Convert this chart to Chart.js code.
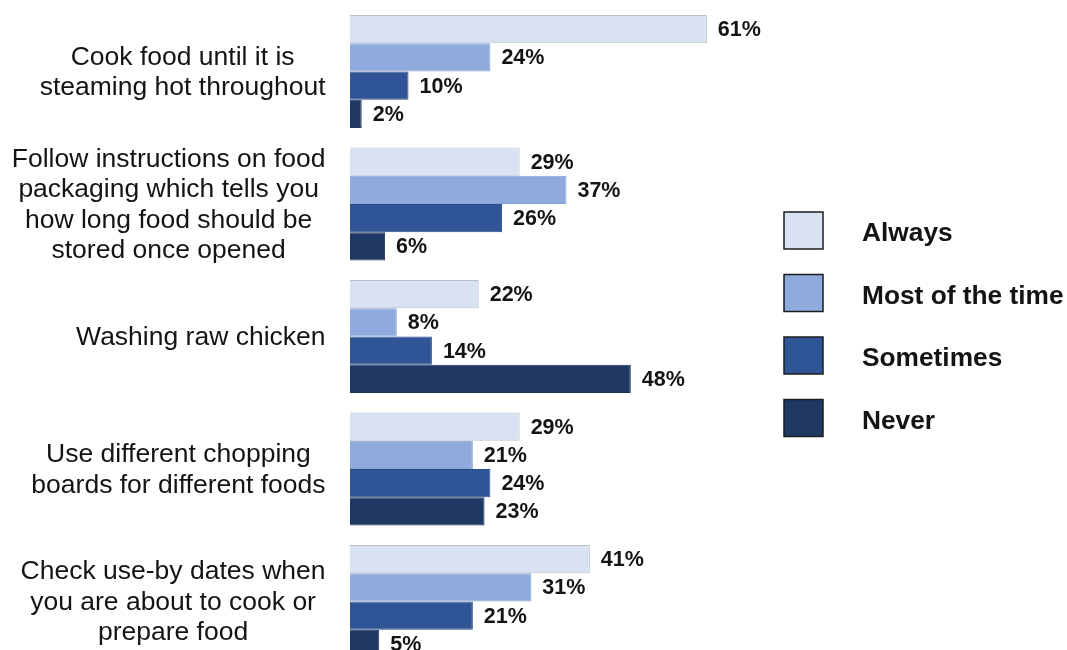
<!DOCTYPE html>
<html>
<head>
<meta charset="utf-8">
<title>Food hygiene practices</title>
<script src="https://cdn.jsdelivr.net/npm/chart.js@4/dist/chart.umd.min.js"></script>
<style>
  html, body { margin: 0; padding: 0; background: #ffffff; overflow: hidden; }
  #wrap { width: 1067px; height: 672px; }
</style>
</head>
<body>
<div id="wrap"><canvas id="chart" width="1067" height="672"></canvas></div>
<script>
// Survey categories (multi-line labels)
const categories = [
  ['Cook food until it is', 'steaming hot throughout'],
  ['Follow instructions on food', 'packaging which tells you', 'how long food should be', 'stored once opened'],
  ['Washing raw chicken'],
  ['Use different chopping', 'boards for different foods'],
  ['Check use-by dates when', 'you are about to cook or', 'prepare food']
];

const seriesNames = ['Always', 'Most of the time', 'Sometimes', 'Never'];

// Percentages per category
const always        = [61, 29, 22, 29, 41];
const mostOfTheTime = [24, 37,  8, 21, 31];
const sometimes     = [10, 26, 14, 24, 21];
const never         = [ 2,  6, 48, 23,  5];

const fillColors   = ['#D9E2F3', '#8FAADC', '#2F5597', '#203864'];
const borderColors = ['#B9C0CC', '#8AA3D2', '#2A4E8C', '#1E335A'];

const FONT = '"Liberation Sans", Arial, Arimo, Helvetica, sans-serif';
const TEXT = '#141414';

// Value labels placed just past the end of each bar
const valueLabels = {
  id: 'valueLabels',
  afterDatasetsDraw(chart) {
    const ctx = chart.ctx;
    ctx.save();
    ctx.font = 'bold 21.5px ' + FONT;
    ctx.fillStyle = TEXT;
    ctx.textAlign = 'left';
    ctx.textBaseline = 'middle';
    chart.data.datasets.forEach((ds, di) => {
      const meta = chart.getDatasetMeta(di);
      meta.data.forEach((bar, i) => {
        ctx.fillText(ds.data[i] + '%', bar.x + 11, bar.y + 1);
      });
    });
    ctx.restore();
  }
};

// Category labels: block right-aligned to the axis, lines centred within the block
const categoryLabels = {
  id: 'categoryLabels',
  afterDraw(chart) {
    const ctx = chart.ctx;
    const y = chart.scales.y;
    const right = y.right - 24.5;
    const lineH = 30.5;
    ctx.save();
    ctx.font = '26.5px ' + FONT;
    ctx.fillStyle = TEXT;
    ctx.textAlign = 'center';
    ctx.textBaseline = 'middle';
    chart.data.labels.forEach((lines, i) => {
      const cy = y.getPixelForValue(i) + 1;
      const w = Math.max(...lines.map(l => ctx.measureText(l).width));
      const cx = right - w / 2;
      const top = cy - (lines.length - 1) * lineH / 2;
      lines.forEach((l, k) => ctx.fillText(l, cx, top + k * lineH));
    });
    ctx.restore();
  }
};

// Legend on the right with large swatches
const sideLegend = {
  id: 'sideLegend',
  afterDraw(chart) {
    const ctx = chart.ctx;
    const x0 = 784, y0 = 212, step = 62.5, bw = 39, bh = 37;
    ctx.save();
    chart.data.datasets.forEach((ds, i) => {
      const top = y0 + i * step;
      ctx.fillStyle = ds.backgroundColor;
      ctx.fillRect(x0, top, bw, bh);
      ctx.lineWidth = 1.5;
      ctx.strokeStyle = '#1c1c1c';
      ctx.strokeRect(x0, top, bw, bh);
      ctx.font = 'bold 26.3px ' + FONT;
      ctx.fillStyle = TEXT;
      ctx.textAlign = 'left';
      ctx.textBaseline = 'middle';
      ctx.fillText(ds.label, 862, top + bh / 2 + 3.5);
    });
    ctx.restore();
  }
};

const seriesValues = [always, mostOfTheTime, sometimes, never];

function draw() {
  new Chart(document.getElementById('chart'), {
    type: 'bar',
    data: {
      labels: categories,
      datasets: seriesNames.map((name, i) => ({
        label: name,
        data: seriesValues[i],
        backgroundColor: fillColors[i],
        borderColor: borderColors[i],
        borderWidth: 1,
        categoryPercentage: 0.853,
        barPercentage: 1.0
      }))
    },
    options: {
      indexAxis: 'y',
      responsive: false,
      animation: false,
      devicePixelRatio: 1,
      layout: { padding: { top: 5.25, bottom: 4.25, left: 0, right: 307.5 } },
      plugins: {
        legend: { display: false },
        tooltip: { enabled: false }
      },
      scales: {
        x: { display: false, min: 0, max: 70 },
        y: {
          display: true,
          grid: { display: false },
          border: { display: false },
          ticks: { display: false },
          afterFit(scale) { scale.width = 350; }
        }
      }
    },
    plugins: [valueLabels, categoryLabels, sideLegend]
  });
}

Promise.all([
  document.fonts.load('26px "Liberation Sans"'),
  document.fonts.load('bold 26px "Liberation Sans"')
]).then(draw, draw);
</script>
</body>
</html>
